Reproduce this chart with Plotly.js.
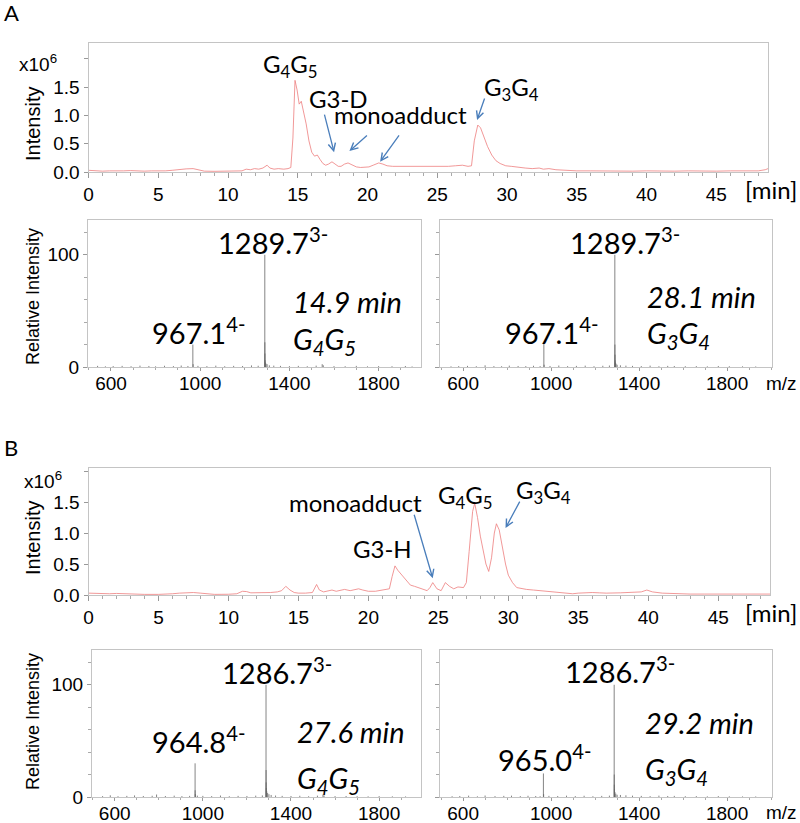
<!DOCTYPE html>
<html>
<head>
<meta charset="utf-8">
<script src="https://cdn.plot.ly/plotly-3.0.1.min.js"></script>
<style>html,body{margin:0;padding:0;background:#fff;}#chart{width:800px;height:823px;}</style>
</head>
<body>
<div id="chart"></div>
<script>
// ---------- DATA ----------
// Panel A chromatogram (time in min, intensity in 1e6)
const timeA = [0,0.5,1,1.5,2,2.5,3,3.5,4,4.5,5,5.5,6,6.5,7,7.5,8,8.3,9,9.5,10,10.5,11,11.3,11.6,11.9,12.2,12.5,12.8,13,13.3,13.6,14,14.3,14.5,14.65,14.8,14.95,15.1,15.25,15.4,15.6,15.8,16,16.2,16.4,16.6,16.8,17,17.2,17.45,17.7,17.9,18.1,18.35,18.6,18.9,19.2,19.5,19.8,20.1,20.4,20.8,21.1,21.4,21.8,22.3,22.8,23.3,23.8,24.3,24.8,25.3,25.8,26.3,26.8,27.2,27.45,27.65,27.9,28.1,28.35,28.6,28.9,29.2,29.5,29.9,30.3,30.8,31.3,31.8,32.3,32.6,33,33.5,34,34.5,35,36,37,38,39,40,41,42,43,44,45,46,47,48,48.5,48.7];
const intA = [0.03,0.02,0.015,0.02,0.015,0.02,0.025,0.015,0.015,0.02,0.015,0.02,0.03,0.045,0.055,0.06,0.04,0.015,0.012,0.015,0.01,0.015,0.02,0.05,0.04,0.06,0.05,0.07,0.12,0.07,0.05,0.06,0.05,0.06,0.08,0.6,1.62,1.45,1.2,1.25,1.1,0.85,0.55,0.35,0.28,0.3,0.22,0.15,0.12,0.14,0.18,0.14,0.1,0.1,0.14,0.16,0.12,0.09,0.08,0.08,0.09,0.12,0.16,0.14,0.11,0.1,0.1,0.09,0.1,0.09,0.1,0.09,0.1,0.1,0.11,0.12,0.1,0.11,0.55,0.83,0.78,0.6,0.45,0.3,0.2,0.15,0.11,0.1,0.08,0.07,0.06,0.07,0.05,0.06,0.04,0.03,0.025,0.02,0.02,0.015,0.02,0.015,0.02,0.015,0.015,0.02,0.015,0.015,0.02,0.015,0.02,0.04,0.06];

// Panel B chromatogram
const timeB = [0,0.5,1,1.5,2,2.5,3,3.5,4,5,5.5,6,6.5,7,7.5,8,8.5,9,10,10.6,11,11.3,11.6,12,12.5,13,13.5,13.8,14.1,14.4,14.7,15,15.5,16,16.3,16.5,16.8,17.1,17.4,17.7,18,18.3,18.7,19,19.3,19.6,20,20.5,21,21.5,21.7,21.9,22.1,22.4,22.7,23,23.3,23.6,23.9,24.2,24.4,24.6,24.9,25.2,25.5,25.8,26.1,26.4,26.8,27,27.2,27.45,27.6,27.8,28,28.2,28.4,28.6,28.8,29,29.15,29.35,29.55,29.8,30,30.3,30.6,31,31.3,31.8,32.3,32.8,33.3,34,34.6,35,35.5,36,36.5,37,38,39,39.5,39.9,40.3,41,42,43,44,45,46,47,48,48.7];
const intB = [0.03,0.025,0.03,0.02,0.025,0.02,0.015,0.012,0.01,0.01,0.012,0.02,0.03,0.04,0.04,0.03,0.015,0.01,0.012,0.02,0.06,0.055,0.035,0.035,0.04,0.04,0.05,0.07,0.14,0.08,0.04,0.03,0.03,0.04,0.17,0.08,0.05,0.06,0.08,0.06,0.08,0.09,0.07,0.09,0.1,0.08,0.06,0.06,0.08,0.1,0.3,0.47,0.4,0.32,0.25,0.16,0.14,0.12,0.1,0.07,0.12,0.2,0.1,0.07,0.2,0.14,0.1,0.13,0.12,0.2,0.7,1.35,1.48,1.25,0.95,0.7,0.5,0.38,0.6,1.0,1.15,1.05,0.8,0.5,0.32,0.2,0.12,0.1,0.09,0.08,0.07,0.06,0.05,0.04,0.02,0.03,0.04,0.04,0.035,0.03,0.035,0.04,0.05,0.08,0.05,0.03,0.02,0.015,0.015,0.015,0.012,0.015,0.012,0.015];

// Mass spectra (m/z, relative intensity)
const mzA1 = [540,575,610,650,690,730,770,800,840,880,915,945,967.1,968.4,990,1030,1070,1110,1150,1190,1230,1260,1289.7,1290.1,1290.4,1291.0,1292,1295,1300,1310,1330,1360,1400,1440,1480,1520,1547,1552,1600,1650,1700,1750,1800,1860,1920,1950];
const riA1 = [1,0.6,0.8,1,0.7,1.2,0.9,0.6,1.1,0.8,1.3,0.9,20,2.5,1,0.8,1.2,0.7,1,0.9,1.4,1.1,100,22,12,6,4,3,2.5,1.5,1.2,1,0.8,1,0.7,1.2,2.5,1.5,0.8,0.7,1,0.6,0.8,0.7,0.9,0.5];
const mzA2 = [545,580,620,660,700,740,775,810,850,885,920,950,967.1,968.3,995,1035,1075,1115,1155,1195,1235,1265,1289.7,1290.1,1290.4,1291.0,1292,1295,1300,1315,1340,1370,1410,1450,1490,1530,1560,1610,1660,1710,1760,1810,1870,1930];
const riA2 = [0.6,0.8,1,0.7,1.5,0.8,0.7,1.2,0.9,0.8,1.1,0.8,20.5,2,0.9,1.3,0.8,1,1.2,0.7,1.1,1.3,100,20,11,6,4,3,2,1.5,1.2,1,0.8,1.2,0.7,1,0.9,0.7,0.8,0.6,0.9,0.7,0.6,0.5];
const mzB1 = [545,580,615,655,690,730,770,790,830,870,905,940,964.8,965.1,966,975,1000,1040,1080,1120,1160,1200,1240,1270,1286.7,1287.0,1287.4,1288,1290,1294,1300,1310,1330,1360,1400,1440,1480,1520,1545,1550,1600,1650,1700,1750,1800,1860,1920];
const riB1 = [0.8,1.5,0.7,1,1.4,0.9,1.1,2.2,0.9,1.2,0.8,1,30,6,2.5,1.2,1,0.8,1.3,0.7,1,0.9,1.2,1.4,100,24,13,8,5,3.5,2.5,1.8,1.3,1,0.9,1.1,0.7,1.2,2.2,1.4,0.8,0.9,0.7,0.6,0.8,0.6,0.5];
const mzB2 = [550,585,625,665,700,745,785,820,860,895,930,950,965.0,966,990,1030,1070,1110,1150,1190,1230,1265,1286.7,1287.0,1287.4,1288,1290,1294,1300,1315,1340,1370,1410,1450,1490,1530,1560,1610,1660,1710,1760,1810,1870,1930];
const riB2 = [0.7,0.9,1.2,0.6,1.3,0.8,1,1.2,0.8,1.1,0.9,0.7,21,2.5,1,0.9,1.2,0.8,1.1,0.7,1,1.2,100,20,11,7,4.5,3,2,1.8,1.5,1.2,1,0.8,1.2,0.9,1,0.7,0.8,0.6,0.8,0.6,0.5,0.5];

// Tick labels
const yTickVals = [0,0.5,1,1.5,2];
const yTickText = ['0.0','0.5','1.0','1.5',''];

// ---------- HELPERS ----------
const W = 800, H = 823;
const dx = (a,b)=>[a/W, b/W];
const dy = (top,bottom)=>[1-bottom/H, 1-top/H];
const px = x=>x/W, py = y=>1-y/H;

function sticks(mz, ri){
  const x=[], y=[];
  mz.forEach((m,i)=>{ x.push(m,m,null); y.push(0,ri[i],null); });
  return {x, y};
}

const tickFont = {family:'"Liberation Sans", Arial, sans-serif', size:19, color:'#000'};
const annFont = {family:'Lato, "Open Sans", sans-serif', size:24, color:'#000'};
const msFont = {family:'Lato, "Open Sans", sans-serif', size:29, color:'#000'};
const frame = {showline:true, mirror:true, linecolor:'#c4c4c4', linewidth:1, showgrid:false, zeroline:false, fixedrange:true};

function chromX(dom){
  return Object.assign({}, frame, {domain:dom, range:[0,48.7], tick0:0, dtick:5, ticks:'outside', ticklen:5, tickcolor:'#999', tickfont:tickFont,
    minor:{dtick:1, ticks:'outside', ticklen:3, tickcolor:'#aaa'}});
}
function chromY(dom, top){
  return Object.assign({}, frame, {domain:dom, range:[0,top], tickmode:'array', tickvals:yTickVals, ticktext:yTickText, ticks:'outside', ticklen:4, tickcolor:'#999', tickfont:tickFont});
}
function msX(dom, rng, anchor){
  return Object.assign({}, frame, {domain:dom, range:rng, tick0:200, dtick:400, ticks:'outside', ticklen:3, tickcolor:'#999', tickfont:tickFont, anchor:anchor,
    ticklabelstandoff:-4,
    minor:{dtick:100, ticks:'outside', ticklen:2, tickcolor:'#aaa'}});
}
function msY(dom, labels, anchor){
  return Object.assign({}, frame, {domain:dom, range:[0,131], tick0:0, dtick:100, ticks:'outside', ticklen:4, tickcolor:'#999', tickfont:tickFont, showticklabels:labels, anchor:anchor,
    minor:{dtick:20, ticks:'outside', ticklen:3, tickcolor:'#aaa'}});
}

const chromLine = {color:'rgb(238,125,125)', width:0.8};
const msLine = {color:'#666', width:0.8};

const sA1 = sticks(mzA1, riA1), sA2 = sticks(mzA2, riA2), sB1 = sticks(mzB1, riB1), sB2 = sticks(mzB2, riB2);

const data = [
  {x:timeA, y:intA, type:'scatter', mode:'lines', line:chromLine, xaxis:'x', yaxis:'y', hoverinfo:'skip'},
  {x:sA1.x, y:sA1.y, type:'scatter', mode:'lines', line:msLine, xaxis:'x2', yaxis:'y2', connectgaps:false, hoverinfo:'skip'},
  {x:sA2.x, y:sA2.y, type:'scatter', mode:'lines', line:msLine, xaxis:'x3', yaxis:'y3', connectgaps:false, hoverinfo:'skip'},
  {x:timeB, y:intB, type:'scatter', mode:'lines', line:chromLine, xaxis:'x4', yaxis:'y4', hoverinfo:'skip'},
  {x:sB1.x, y:sB1.y, type:'scatter', mode:'lines', line:msLine, xaxis:'x5', yaxis:'y5', connectgaps:false, hoverinfo:'skip'},
  {x:sB2.x, y:sB2.y, type:'scatter', mode:'lines', line:msLine, xaxis:'x6', yaxis:'y6', connectgaps:false, hoverinfo:'skip'}
];

function txt(text, x, y, font, opts){
  return Object.assign({text:text, xref:'paper', yref:'paper', x:px(x), y:py(y), xanchor:'left', yanchor:'middle', showarrow:false, font:font}, opts||{});
}
const arrowColor = '#4a7ebb';
function arrow(xr, yr, x, y, ax, ay){
  return {xref:xr, yref:yr, x:x, y:y, ax:ax, ay:ay, text:'', showarrow:true, arrowhead:5, arrowsize:1.1, arrowwidth:1.3, arrowcolor:arrowColor};
}
const italic = Object.assign({}, msFont, {style:'italic'});
const yTitleFont = {family:'"Liberation Sans", Arial, sans-serif', size:20, color:'#000'};
const yTitleFont2 = {family:'"Liberation Sans", Arial, sans-serif', size:18, color:'#000'};
const mzFont = {family:'"Liberation Sans", Arial, sans-serif', size:19, color:'#000'};

const annotations = [
  txt('A', 2, 12, {family:'Lato, sans-serif', size:22, color:'#000'}),
  txt('B', 2, 447, {family:'Lato, sans-serif', size:22, color:'#000'}),
  // y titles
  txt('Intensity', 33, 124, yTitleFont, {xanchor:'center', textangle:-90}),
  txt('Relative Intensity', 33, 297, yTitleFont2, {xanchor:'center', textangle:-90}),
  txt('Intensity', 33, 538, yTitleFont, {xanchor:'center', textangle:-90}),
  txt('Relative Intensity', 33, 722, yTitleFont2, {xanchor:'center', textangle:-90}),
  txt('x10<sup>6</sup>', 17, 63, tickFont),
  txt('x10<sup>6</sup>', 22, 480, tickFont),
  txt('[min]', 743, 190, annFont),
  txt('[min]', 743, 612, annFont),
  txt('m/z', 799, 383, mzFont, {xanchor:'right'}),
  txt('m/z', 799, 812, mzFont, {xanchor:'right'}),
  // panel A chromatogram labels
  txt('G<sub>4</sub>G<sub>5</sub>', 261, 66, annFont),
  txt('G3-D', 307, 98, annFont),
  txt('monoadduct', 332, 115, annFont),
  txt('G<sub>3</sub>G<sub>4</sub>', 482, 88, annFont),
  arrow('x','y', 17.6, 0.35, -10, -39),
  arrow('x','y', 18.7, 0.37, 19, -17),
  arrow('x','y', 20.9, 0.18, 20, -28),
  arrow('x','y', 27.85, 0.92, 8, -23),
  // panel A spectra labels
  txt('1289.7<sup>3-</sup>', 216, 241, msFont),
  txt('967.1<sup>4-</sup>', 150, 331, msFont),
  txt('14.9 min', 291, 301, italic),
  txt('G<sub>4</sub>G<sub>5</sub>', 291, 340, italic),
  txt('1289.7<sup>3-</sup>', 568, 241, msFont),
  txt('967.1<sup>4-</sup>', 503, 331, msFont),
  txt('28.1 min', 645, 296, italic),
  txt('G<sub>3</sub>G<sub>4</sub>', 645, 335, italic),
  // panel B chromatogram labels
  txt('monoadduct', 287, 502, annFont),
  txt('G3-H', 351, 548, annFont),
  txt('G<sub>4</sub>G<sub>5</sub>', 436, 496, annFont),
  txt('G<sub>3</sub>G<sub>4</sub>', 514, 491, annFont),
  arrow('x4','y4', 24.6, 0.27, -19, -65),
  arrow('x4','y4', 29.8, 1.08, 15, -28),
  // panel B spectra labels
  txt('1286.7<sup>3-</sup>', 220, 671, msFont),
  txt('964.8<sup>4-</sup>', 150, 740, msFont),
  txt('27.6 min', 295, 731, italic),
  txt('G<sub>4</sub>G<sub>5</sub>', 295, 779, italic),
  txt('1286.7<sup>3-</sup>', 563, 670, msFont),
  txt('965.0<sup>4-</sup>', 496, 758, msFont),
  txt('29.2 min', 643, 722, italic),
  txt('G<sub>3</sub>G<sub>4</sub>', 643, 770, italic)
];

const layout = {
  width:W, height:H, margin:{l:0,r:0,t:0,b:0}, showlegend:false,
  paper_bgcolor:'#fff', plot_bgcolor:'#fff',
  xaxis: chromX(dx(88.5,768)),
  yaxis: chromY(dy(43,172), 2.28),
  xaxis2: msX(dx(88,421), [497,1990], 'y2'),
  yaxis2: msY(dy(220,367), true, 'x2'),
  xaxis3: msX(dx(440,772), [495,2004], 'y3'),
  yaxis3: msY(dy(220,367), false, 'x3'),
  xaxis4: Object.assign(chromX(dx(88.5,770)), {anchor:'y4'}),
  yaxis4: Object.assign(chromY(dy(468,595), 2.05), {anchor:'x4'}),
  xaxis5: msX(dx(92,421), [497,1990], 'y5'),
  yaxis5: msY(dy(650,797), true, 'x5'),
  xaxis6: msX(dx(440,772), [495,2004], 'y6'),
  yaxis6: msY(dy(650,797), false, 'x6'),
  annotations: annotations
};
layout.xaxis.anchor = 'y';
layout.yaxis.anchor = 'x';

Plotly.newPlot('chart', data, layout, {staticPlot:true, displayModeBar:false});
</script>
</body>
</html>
